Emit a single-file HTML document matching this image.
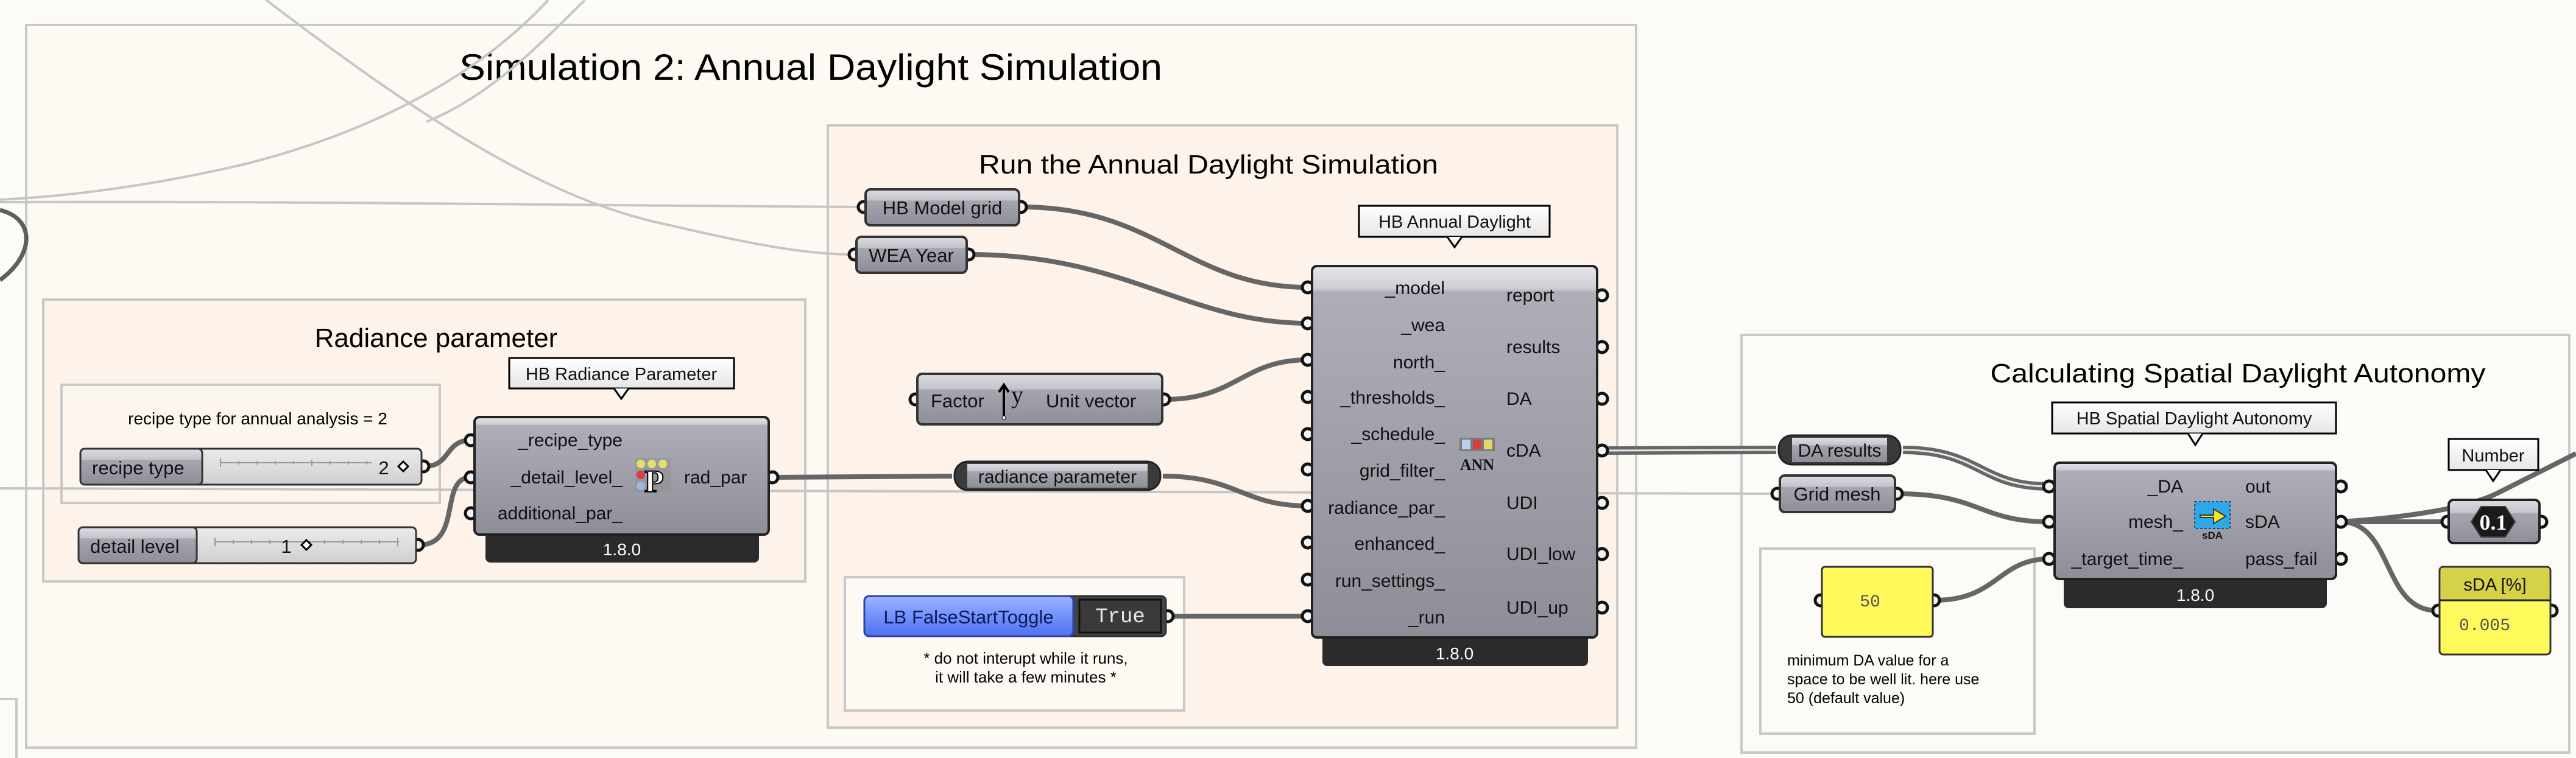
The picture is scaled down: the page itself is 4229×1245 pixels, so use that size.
<!DOCTYPE html>
<html><head><meta charset="utf-8"><style>html,body{margin:0;padding:0;background:#fdfbf7;}svg{display:block}</style></head>
<body>
<svg width="4229" height="1245" viewBox="0 0 4229 1245" xmlns="http://www.w3.org/2000/svg" font-family="Liberation Sans, sans-serif">
<defs>
<linearGradient id="body" x1="0" y1="0" x2="0" y2="1">
<stop offset="0" stop-color="#e4e4e8"/><stop offset="0.06" stop-color="#cfcfd5"/><stop offset="0.07" stop-color="#aeaeb8"/><stop offset="1" stop-color="#8e8e98"/></linearGradient>
<linearGradient id="small" x1="0" y1="0" x2="0" y2="1">
<stop offset="0" stop-color="#dcdce2"/><stop offset="0.3" stop-color="#c4c4cc"/><stop offset="0.32" stop-color="#a6a6b0"/><stop offset="1" stop-color="#8e8e98"/></linearGradient>
<linearGradient id="sval" x1="0" y1="0" x2="0" y2="1">
<stop offset="0" stop-color="#ececec"/><stop offset="1" stop-color="#cfcfcf"/></linearGradient>
<linearGradient id="tip" x1="0" y1="0" x2="0" y2="1">
<stop offset="0" stop-color="#ffffff"/><stop offset="1" stop-color="#e6e6e6"/></linearGradient>
<linearGradient id="blue" x1="0" y1="0" x2="0" y2="1">
<stop offset="0" stop-color="#9fb6ff"/><stop offset="0.35" stop-color="#7f9cff"/><stop offset="1" stop-color="#4f6ff0"/></linearGradient>
<linearGradient id="yel" x1="0" y1="0" x2="0" y2="1">
<stop offset="0" stop-color="#e9e66a"/><stop offset="0.25" stop-color="#fffb5e"/><stop offset="1" stop-color="#fff95a"/></linearGradient>
</defs>

<!-- groups -->
<rect x="43" y="41" width="2643" height="1187" fill="#fdf9f3" stroke="#c9c9c9" stroke-width="4"/>
<rect x="-5" y="1148" width="32" height="120" fill="#fdfbf7" stroke="#c9c9c9" stroke-width="4"/>
<rect x="71" y="492" width="1251" height="463" fill="#fdf3ea" stroke="#c9c9c9" stroke-width="4"/>
<rect x="101" y="632" width="621" height="194" fill="#fdf6ef" stroke="#c9c9c9" stroke-width="4"/>
<rect x="1359" y="206" width="1296" height="989" fill="#fdf3ea" stroke="#c9c9c9" stroke-width="4"/>
<rect x="1387" y="948" width="557" height="219" fill="#fdf9f3" stroke="#c9c9c9" stroke-width="4"/>
<rect x="2859" y="550" width="1359" height="686" fill="#fdfbf7" stroke="#c9c9c9" stroke-width="4"/>
<rect x="2890" y="901" width="450" height="304" fill="#fdfbf7" stroke="#c9c9c9" stroke-width="4"/>

<!-- titles -->
<text x="754" y="131" font-size="60" textLength="1154" lengthAdjust="spacingAndGlyphs" fill="#000">Simulation 2: Annual Daylight Simulation</text>
<text x="716" y="570" font-size="44" text-anchor="middle" fill="#000">Radiance parameter</text>
<text x="1984" y="285" font-size="44" text-anchor="middle" textLength="754" lengthAdjust="spacingAndGlyphs" fill="#000">Run the Annual Daylight Simulation</text>
<text x="3674" y="628" font-size="44" text-anchor="middle" textLength="813" lengthAdjust="spacingAndGlyphs" fill="#000">Calculating Spatial Daylight Autonomy</text>
<text x="423" y="697" font-size="28" text-anchor="middle" fill="#000">recipe type for annual analysis = 2</text>
<text x="1684" y="1090" font-size="26" text-anchor="middle" fill="#000">* do not interupt while it runs,</text>
<text x="1684" y="1121" font-size="26" text-anchor="middle" fill="#000">it will take a few minutes *</text>
<text x="2934" y="1093" font-size="25" fill="#000">minimum DA value for a</text>
<text x="2934" y="1124" font-size="25" fill="#000">space to be well lit. here use</text>
<text x="2934" y="1155" font-size="25" fill="#000">50 (default value)</text>

<!-- light wires -->
<g fill="none" stroke="#c6c6c6" stroke-width="4">
<path d="M0 332 C500 330 1000 338 1418 340"/>
<path d="M437 0 C700 200 900 330 1100 370 C1250 405 1330 418 1403 418"/>
<path d="M900 0 C780 130 600 220 400 270 C250 305 120 322 0 328"/>
<path d="M960 0 C880 80 800 160 700 200"/>
<path d="M0 802 L1200 806 L2918 811"/>
</g>
<!-- dark loop -->
<path d="M0 345 C60 360 55 420 0 460" fill="none" stroke="#5e5e5e" stroke-width="7"/>

<!-- dark wires -->
<g fill="none" stroke="#666" stroke-width="8">
<path d="M1270 784 C1400 784 1450 782 1563 782"/>
<path d="M1909 782 C2030 782 2040 831 2147 831"/>
<path d="M1678 340 C1900 340 1950 472 2147 472"/>
<path d="M1592 418 C1850 418 1950 531 2147 531"/>
<path d="M1912 656 C2030 656 2040 591 2147 591"/>
<path d="M1918 1012 L2147 1012"/>
<path d="M697 766 C740 766 730 723 773 723"/>
<path d="M688 895 C760 895 720 784 773 784"/>
<path d="M3117 811 C3250 811 3250 857 3364 857"/>
<path d="M3176 986 C3280 986 3280 918 3364 918"/>
<path d="M3842 857 C3920 857 3950 857 4016 857"/>
<path d="M3842 857 C3930 857 3910 1003 4001 1003"/>
<path d="M3842 857 C3950 850 4050 835 4100 810 C4160 780 4200 760 4229 745"/>
</g>
<!-- double wires -->
<g fill="none">
<path d="M2631 740 L2916 739" stroke="#666" stroke-width="14"/>
<path d="M2631 740 L2916 739" stroke="#e8e8e8" stroke-width="3"/>
<path d="M3124 739 C3250 739 3250 799 3364 799" stroke="#666" stroke-width="14"/>
<path d="M3124 739 C3250 739 3250 799 3364 799" stroke="#e8e8e8" stroke-width="3"/>
</g>

<!-- ports -->
<g fill="#f4f4f4" stroke="#111" stroke-width="5">
<circle cx="773" cy="723" r="9"/><circle cx="773" cy="784" r="9"/><circle cx="773" cy="843" r="9"/><circle cx="1268" cy="784" r="9"/>
<circle cx="695" cy="766" r="9"/><circle cx="686" cy="895" r="9"/>
<circle cx="1418" cy="340" r="9"/><circle cx="1676" cy="340" r="9"/>
<circle cx="1403" cy="418" r="9"/><circle cx="1590" cy="418" r="9"/>
<circle cx="1503" cy="656" r="9"/><circle cx="1911" cy="656" r="9"/>
<circle cx="1917" cy="1012" r="9"/>
<circle cx="2147" cy="472" r="9"/><circle cx="2147" cy="531" r="9"/><circle cx="2147" cy="591" r="9"/><circle cx="2147" cy="652" r="9"/><circle cx="2147" cy="713" r="9"/><circle cx="2147" cy="771" r="9"/><circle cx="2147" cy="831" r="9"/><circle cx="2147" cy="891" r="9"/><circle cx="2147" cy="952" r="9"/><circle cx="2147" cy="1012" r="9"/>
<circle cx="2630" cy="485" r="9"/><circle cx="2630" cy="570" r="9"/><circle cx="2630" cy="655" r="9"/><circle cx="2630" cy="740" r="9"/><circle cx="2630" cy="826" r="9"/><circle cx="2630" cy="910" r="9"/><circle cx="2630" cy="998" r="9"/>
<circle cx="2918" cy="811" r="9"/><circle cx="3114" cy="811" r="9"/>
<circle cx="3364" cy="799" r="9"/><circle cx="3364" cy="857" r="9"/><circle cx="3364" cy="918" r="9"/>
<circle cx="3843" cy="799" r="9"/><circle cx="3843" cy="857" r="9"/><circle cx="3843" cy="918" r="9"/>
<circle cx="2989" cy="986" r="9"/><circle cx="3175" cy="986" r="9"/>
<circle cx="4018" cy="857" r="9"/><circle cx="4172" cy="857" r="9"/>
<circle cx="4003" cy="1003" r="9"/><circle cx="4189" cy="1003" r="9"/>
</g>

<!-- sliders -->
<rect x="132" y="737" width="560" height="59" rx="7" fill="url(#sval)" stroke="#333" stroke-width="3"/>
<rect x="132" y="737" width="200" height="59" rx="7" fill="url(#small)" stroke="#333" stroke-width="3"/>
<text x="151" y="779" font-size="31" fill="#111">recipe type</text>
<path d="M362 753 v14 M362 760 H610 M392 757v6 M422 757v6 M452 757v6 M482 757v6 M512 755v10 M542 757v6 M572 757v6 M602 757v6" stroke="#999" stroke-width="2" fill="none"/>
<text x="630" y="779" font-size="31" text-anchor="middle" fill="#111">2</text>
<path d="M662 758 l8 8 l-8 8 l-8 -8z" fill="#fff" stroke="#000" stroke-width="3"/>

<rect x="129" y="866" width="554" height="59" rx="7" fill="url(#sval)" stroke="#333" stroke-width="3"/>
<rect x="129" y="866" width="194" height="59" rx="7" fill="url(#small)" stroke="#333" stroke-width="3"/>
<text x="148" y="908" font-size="31" fill="#111">detail level</text>
<path d="M353 883 v14 M353 890 H655 M383 887v6 M413 887v6 M443 887v6 M533 887v6 M563 887v6 M593 887v6 M623 887v6 M653 883v14" stroke="#999" stroke-width="2" fill="none"/>
<text x="470" y="908" font-size="31" text-anchor="middle" fill="#111">1</text>
<path d="M503 887 l8 8 l-8 8 l-8 -8z" fill="#fff" stroke="#000" stroke-width="3"/>

<!-- HB Radiance Parameter -->
<rect x="797" y="850" width="449" height="74" rx="8" fill="#2b2b2b"/>
<rect x="779" y="685" width="483" height="193" rx="8" fill="url(#body)" stroke="#222" stroke-width="4"/>
<text x="1021" y="912" font-size="28" text-anchor="middle" fill="#fff">1.8.0</text>
<g font-size="30" fill="#111" text-anchor="end">
<text x="1022" y="733">_recipe_type</text><text x="1022" y="794">_detail_level_</text><text x="1022" y="853">additional_par_</text></g>
<text x="1123" y="794" font-size="30" fill="#111">rad_par</text>
<g>
<rect x="1042" y="752" width="60" height="56" fill="#888" opacity="0.35"/>
<circle cx="1052" cy="762" r="7" fill="#e8de6a"/><circle cx="1070" cy="762" r="7" fill="#e8de6a"/><circle cx="1088" cy="762" r="7" fill="#e8de6a"/>
<circle cx="1052" cy="780" r="7" fill="#d84040"/><circle cx="1052" cy="798" r="7" fill="#9ab8e0"/>
<text x="1058" y="808" font-size="52" font-family="Liberation Serif, serif" font-weight="bold" fill="#fff" stroke="#000" stroke-width="2">P</text></g>
<rect x="836" y="588" width="369" height="50" fill="url(#tip)" stroke="#000" stroke-width="3"/>
<path d="M1008 638 L1020 655 L1032 638" fill="url(#tip)" stroke="#000" stroke-width="3"/>
<text x="1020" y="624" font-size="29" text-anchor="middle" fill="#111">HB Radiance Parameter</text>

<!-- HB Model grid / WEA Year -->
<rect x="1421" y="311" width="252" height="59" rx="8" fill="url(#small)" stroke="#333" stroke-width="4"/>
<text x="1547" y="352" font-size="31" text-anchor="middle" fill="#111">HB Model grid</text>
<rect x="1406" y="389" width="181" height="59" rx="8" fill="url(#small)" stroke="#333" stroke-width="4"/>
<text x="1496" y="430" font-size="31" text-anchor="middle" fill="#111">WEA Year</text>

<!-- Unit vector -->
<rect x="1506" y="614" width="402" height="83" rx="8" fill="url(#small)" stroke="#333" stroke-width="4"/>
<text x="1528" y="669" font-size="31" fill="#111">Factor</text>
<path d="M1648 685 V634 M1640 644 L1648 632 L1656 644" stroke="#000" stroke-width="4" fill="none"/>
<circle cx="1648" cy="686" r="3" fill="#fff" stroke="#000"/>
<text x="1660" y="662" font-size="40" font-family="Liberation Serif, serif" fill="#111">y</text>
<text x="1717" y="669" font-size="31" fill="#111">Unit vector</text>

<!-- radiance parameter relay -->
<rect x="1567" y="758" width="338" height="47" rx="22" fill="#3a3a3a" stroke="#222" stroke-width="3"/>
<rect x="1588" y="762" width="296" height="39" fill="url(#small)"/>
<text x="1736" y="793" font-size="30" text-anchor="middle" fill="#111">radiance parameter</text>

<!-- Toggle -->
<rect x="1419" y="979" width="495" height="66" rx="8" fill="#444" stroke="#333" stroke-width="3"/>
<rect x="1419" y="979" width="343" height="66" rx="8" fill="url(#blue)" stroke="#2a43a8" stroke-width="3"/>
<text x="1590" y="1024" font-size="31" text-anchor="middle" fill="#0c1a55">LB FalseStartToggle</text>
<rect x="1772" y="985" width="134" height="54" fill="#3a3a3a" stroke="#111" stroke-width="3"/>
<text x="1839" y="1022" font-size="34" font-family="Liberation Mono, monospace" text-anchor="middle" fill="#e8e8e8">True</text>

<!-- HB Annual Daylight -->
<rect x="2171" y="1020" width="436" height="74" rx="8" fill="#2b2b2b"/>
<rect x="2154" y="437" width="468" height="610" rx="8" fill="url(#body)" stroke="#222" stroke-width="4"/>
<text x="2388" y="1083" font-size="28" text-anchor="middle" fill="#fff">1.8.0</text>
<g font-size="30" fill="#111" text-anchor="end">
<text x="2372" y="483">_model</text><text x="2372" y="544">_wea</text><text x="2372" y="605">north_</text><text x="2372" y="663">_thresholds_</text><text x="2372" y="723">_schedule_</text><text x="2372" y="783">grid_filter_</text><text x="2372" y="844">radiance_par_</text><text x="2372" y="903">enhanced_</text><text x="2372" y="964">run_settings_</text><text x="2372" y="1024">_run</text></g>
<g font-size="30" fill="#111">
<text x="2473" y="495">report</text><text x="2473" y="580">results</text><text x="2473" y="665">DA</text><text x="2473" y="750">cDA</text><text x="2473" y="836">UDI</text><text x="2473" y="920">UDI_low</text><text x="2473" y="1008">UDI_up</text></g>
<rect x="2396" y="719" width="58" height="22" fill="#555" opacity="0.5"/>
<rect x="2400" y="722" width="14" height="16" fill="#b8d0ee"/><rect x="2418" y="722" width="14" height="16" fill="#d84040"/><rect x="2436" y="722" width="14" height="16" fill="#e0d860"/>
<text x="2425" y="772" font-size="26" font-family="Liberation Serif, serif" font-weight="bold" text-anchor="middle" fill="#111">ANN</text>
<rect x="2231" y="338" width="313" height="51" fill="url(#tip)" stroke="#000" stroke-width="3"/>
<path d="M2376 389 L2388 406 L2400 389" fill="url(#tip)" stroke="#000" stroke-width="3"/>
<text x="2388" y="374" font-size="29" text-anchor="middle" fill="#111">HB Annual Daylight</text>

<!-- DA results relay -->
<rect x="2920" y="715" width="200" height="48" rx="22" fill="#3a3a3a" stroke="#222" stroke-width="3"/>
<rect x="2942" y="719" width="156" height="40" fill="url(#small)"/>
<text x="3020" y="750" font-size="30" text-anchor="middle" fill="#111">DA results</text>
<!-- Grid mesh -->
<rect x="2922" y="781" width="189" height="60" rx="8" fill="url(#small)" stroke="#333" stroke-width="4"/>
<text x="3016" y="822" font-size="31" text-anchor="middle" fill="#111">Grid mesh</text>

<!-- 50 panel -->
<rect x="2991" y="931" width="182" height="115" rx="5" fill="#fff95a" stroke="#333" stroke-width="3"/>
<text x="3070" y="996" font-size="28" font-family="Liberation Mono, monospace" text-anchor="middle" fill="#555">50</text>

<!-- HB sDA -->
<rect x="3388" y="925" width="432" height="74" rx="8" fill="#2b2b2b"/>
<rect x="3373" y="760" width="462" height="191" rx="8" fill="url(#body)" stroke="#222" stroke-width="4"/>
<text x="3604" y="987" font-size="28" text-anchor="middle" fill="#fff">1.8.0</text>
<g font-size="30" fill="#111" text-anchor="end">
<text x="3584" y="809">_DA</text><text x="3584" y="867">mesh_</text><text x="3584" y="928">_target_time_</text></g>
<g font-size="30" fill="#111">
<text x="3686" y="809">out</text><text x="3686" y="867">sDA</text><text x="3686" y="928">pass_fail</text></g>
<rect x="3603" y="824" width="58" height="44" fill="#2ea8e8" stroke="#1a5080" stroke-width="2" stroke-dasharray="4 3"/>
<path d="M3612 846 h22 v-10 l20 12 l-20 12 v-10 h-22z" fill="#f2e62a" stroke="#333" stroke-width="2"/>
<text x="3632" y="885" font-size="17" font-weight="bold" text-anchor="middle" fill="#111">sDA</text>
<rect x="3369" y="661" width="466" height="51" fill="url(#tip)" stroke="#000" stroke-width="3"/>
<path d="M3592 712 L3604 731 L3616 712" fill="url(#tip)" stroke="#000" stroke-width="3"/>
<text x="3602" y="697" font-size="29" text-anchor="middle" fill="#111">HB Spatial Daylight Autonomy</text>

<!-- Number -->
<rect x="4020" y="821" width="149" height="71" rx="8" fill="url(#small)" stroke="#222" stroke-width="4"/>
<path d="M4073 832 h40 l16 25 l-16 25 h-40 l-16 -25z" fill="#1a1a1a" stroke="#444" stroke-width="2"/>
<text x="4093" y="870" font-size="36" font-family="Liberation Serif, serif" font-weight="bold" text-anchor="middle" fill="#fff">0.1</text>
<rect x="4020" y="721" width="147" height="51" fill="url(#tip)" stroke="#000" stroke-width="3"/>
<path d="M4081 772 L4093 790 L4105 772" fill="url(#tip)" stroke="#000" stroke-width="3"/>
<text x="4093" y="758" font-size="29" text-anchor="middle" fill="#111">Number</text>

<!-- sDA panel -->
<rect x="4005" y="931" width="182" height="144" rx="6" fill="url(#yel)" stroke="#333" stroke-width="3"/>
<rect x="4007" y="933" width="178" height="52" fill="#d5d24a"/>
<line x1="4005" y1="986" x2="4187" y2="986" stroke="#222" stroke-width="3"/>
<text x="4096" y="970" font-size="29" text-anchor="middle" fill="#111">sDA [%]</text>
<text x="4037" y="1035" font-size="28" font-family="Liberation Mono, monospace" fill="#555">0.005</text>
</svg>
</body></html>
